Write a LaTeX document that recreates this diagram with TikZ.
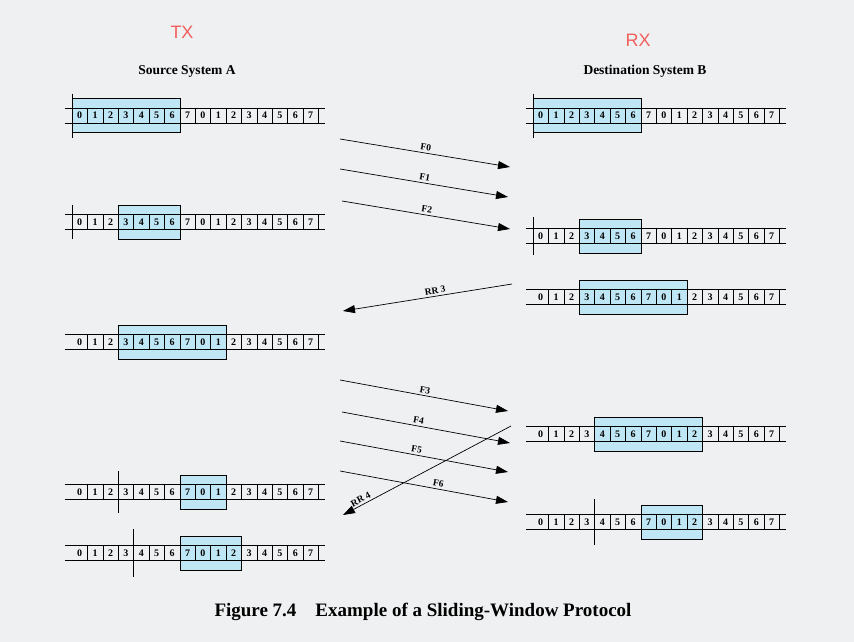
\documentclass[tikz,border=0pt]{standalone}
\usepackage{fontspec}
\setmainfont{Liberation Serif}
\newfontfamily\txfont{Liberation Sans}
\usetikzlibrary{arrows.meta}
\definecolor{bg}{HTML}{EEF0F1}
\definecolor{win}{HTML}{BFE6F5}
\definecolor{txc}{HTML}{F2605E}
\tikzset{
 cell/.style={font=\bfseries\fontsize{10}{10}\selectfont,inner sep=0pt},
 msg/.style={-{Triangle[length=12pt,width=8pt]},line width=0.7pt},
 mlab/.style={font=\bfseries\fontsize{9.5}{10}\selectfont,sloped,above,inner sep=2pt},
 hdr/.style={font=\bfseries\fontsize{13.5}{15}\selectfont},
}
\newcommand{\seqstrip}[6]{% x0, cy, winstart, winend, tick index, tick half height
 \begin{scope}[shift={(#1,#2)}]
  \fill[win] (#3*15.4,-17) rectangle (#4*15.4+15.4,17);
  \draw[line width=0.6pt] (#3*15.4,-17) rectangle (#4*15.4+15.4,17);
  \draw[line width=0.8pt] (-7,-7.5) -- (16*15.4+7,-7.5) (-7,7.5) -- (16*15.4+7,7.5);
  \foreach \i in {1,...,16} \draw[line width=0.5pt] (\i*15.4,-7.5) -- (\i*15.4,7.5);
  \foreach \i [evaluate=\i as \d using {int(mod(\i,8))}] in {0,...,15}
    \node[cell] at (\i*15.4+7.7,0) {\d};
  \draw[line width=0.7pt] (#5*15.4,-#6) -- (#5*15.4,#6);
 \end{scope}}
\begin{document}
\begin{tikzpicture}[x=1pt,y=-1pt]
\fill[bg] (0,0) rectangle (854,642);
\useasboundingbox (0,0) rectangle (854,642);
\node[text=txc,font=\txfont\fontsize{18}{18}\selectfont] (tx) at (182,32) {TX};
\node[text=txc,font=\txfont\fontsize{18}{18}\selectfont] (rx) at (638,40) {RX};
\node[hdr] (ha) at (187,71) {Source System A};
\node[hdr] (hb) at (645,71) {Destination System B};
\seqstrip{72}{115.5}{0}{6}{0}{22}
\seqstrip{72}{222}{3}{6}{0}{17}
\seqstrip{72}{342}{3}{9}{3}{17}
\seqstrip{72}{492}{7}{9}{3}{21}
\seqstrip{72}{553}{7}{10}{4}{24}
\seqstrip{533}{115.5}{0}{6}{0}{22}
\seqstrip{533}{236}{3}{6}{0}{19}
\seqstrip{533}{297}{3}{9}{3}{17}
\seqstrip{533}{434}{4}{10}{4}{17}
\seqstrip{533}{522}{7}{10}{4}{23}
\coordinate (f0s) at (340,139); \coordinate (f0e) at (510,167);
\coordinate (f1s) at (340,169); \coordinate (f1e) at (508,197);
\coordinate (f2s) at (342,201); \coordinate (f2e) at (510,229);
\coordinate (r3s) at (512,284); \coordinate (r3e) at (343,311);
\coordinate (f3s) at (340,380); \coordinate (f3e) at (508,411);
\coordinate (f4s) at (342,412); \coordinate (f4e) at (510,443);
\coordinate (f5s) at (340,441); \coordinate (f5e) at (508,472);
\coordinate (f6s) at (340,471); \coordinate (f6e) at (508,502);
\coordinate (r4s) at (511,426); \coordinate (r4e) at (343,515);
\draw[msg] (f0s) -- node[mlab] {F0} (f0e);
\draw[msg] (f1s) -- node[mlab] {F1} (f1e);
\draw[msg] (f2s) -- node[mlab] {F2} (f2e);
\draw[msg] (r3s) -- node[mlab,pos=0.45] {RR 3} (r3e);
\draw[msg] (f3s) -- node[mlab] {F3} (f3e);
\draw[msg] (f4s) -- node[mlab,pos=0.45] {F4} (f4e);
\draw[msg] (f5s) -- node[mlab,pos=0.45] {F5} (f5e);
\draw[msg] (f6s) -- node[mlab,pos=0.58] {F6} (f6e);
\draw[msg] (r4s) -- node[mlab,pos=0.88] {RR 4} (r4e);
\node[font=\bfseries\fontsize{19}{21}\selectfont] (cap) at (423,612) {Figure 7.4\quad Example of a Sliding-Window Protocol};
\end{tikzpicture}
\end{document}
